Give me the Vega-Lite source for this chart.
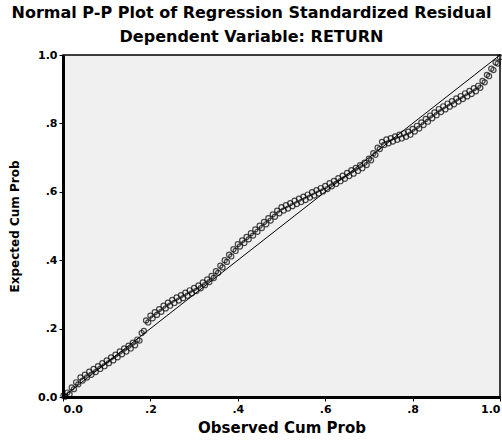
{
  "$schema": "https://vega.github.io/schema/vega-lite/v6.json",
  "autosize": "none",
  "padding": {"left": 63, "top": 55, "right": 2, "bottom": 45},
  "width": 437,
  "height": 342,
  "background": "white",
  "config": {
    "view": {"fill": "#f0f0f0", "stroke": "black", "strokeWidth": 1.5},
    "font": "DejaVu Sans"
  },
  "title": {
    "text": ["Normal P-P Plot of Regression Standardized Residual", "Dependent Variable: RETURN"],
    "fontSize": 16,
    "fontWeight": "bold",
    "color": "black",
    "lineHeight": 24,
    "anchor": "middle",
    "dx": -30,
    "offset": 4
  },
  "layer": [
    {
      "data": {"values": [{"o": 0, "e": 0}, {"o": 1, "e": 1}]},
      "mark": {"type": "line", "color": "black", "strokeWidth": 1},
      "encoding": {
        "x": {"field": "o", "type": "quantitative"},
        "y": {"field": "e", "type": "quantitative"}
      }
    },
    {
      "data": {"values": [
        {"o":0.001,"e":0.004},{"o":0.005,"e":0.001},{"o":0.01,"e":0.013},{"o":0.015,"e":0.008},
        {"o":0.02,"e":0.028},{"o":0.025,"e":0.023},{"o":0.03,"e":0.043},{"o":0.035,"e":0.037},
        {"o":0.04,"e":0.057},{"o":0.045,"e":0.048},{"o":0.05,"e":0.065},{"o":0.055,"e":0.057},
        {"o":0.06,"e":0.074},{"o":0.065,"e":0.065},{"o":0.07,"e":0.082},{"o":0.075,"e":0.073},
        {"o":0.08,"e":0.090},{"o":0.085,"e":0.082},{"o":0.09,"e":0.099},{"o":0.095,"e":0.090},
        {"o":0.10,"e":0.107},{"o":0.105,"e":0.099},{"o":0.11,"e":0.116},{"o":0.115,"e":0.107},
        {"o":0.12,"e":0.124},{"o":0.125,"e":0.116},{"o":0.13,"e":0.133},{"o":0.135,"e":0.125},
        {"o":0.14,"e":0.142},{"o":0.145,"e":0.133},{"o":0.15,"e":0.150},{"o":0.155,"e":0.142},
        {"o":0.16,"e":0.159},{"o":0.165,"e":0.151},{"o":0.17,"e":0.168},{"o":0.175,"e":0.165},
        {"o":0.18,"e":0.187},{"o":0.185,"e":0.193},{"o":0.19,"e":0.224},{"o":0.195,"e":0.218},
        {"o":0.20,"e":0.238},{"o":0.205,"e":0.230},{"o":0.21,"e":0.248},{"o":0.215,"e":0.240},
        {"o":0.22,"e":0.257},{"o":0.225,"e":0.249},{"o":0.23,"e":0.267},{"o":0.235,"e":0.259},
        {"o":0.24,"e":0.276},{"o":0.245,"e":0.267},{"o":0.25,"e":0.284},{"o":0.255,"e":0.275},
        {"o":0.26,"e":0.291},{"o":0.265,"e":0.282},{"o":0.27,"e":0.298},{"o":0.275,"e":0.289},
        {"o":0.28,"e":0.305},{"o":0.285,"e":0.296},{"o":0.29,"e":0.312},{"o":0.295,"e":0.303},
        {"o":0.30,"e":0.319},{"o":0.305,"e":0.310},{"o":0.31,"e":0.326},{"o":0.315,"e":0.318},
        {"o":0.32,"e":0.335},{"o":0.325,"e":0.327},{"o":0.33,"e":0.344},{"o":0.335,"e":0.336},
        {"o":0.34,"e":0.354},{"o":0.345,"e":0.348},{"o":0.35,"e":0.368},{"o":0.355,"e":0.363},
        {"o":0.36,"e":0.384},{"o":0.365,"e":0.379},{"o":0.37,"e":0.400},{"o":0.375,"e":0.395},
        {"o":0.38,"e":0.416},{"o":0.385,"e":0.411},{"o":0.39,"e":0.432},{"o":0.395,"e":0.427},
        {"o":0.40,"e":0.447},{"o":0.405,"e":0.440},{"o":0.41,"e":0.458},{"o":0.415,"e":0.450},
        {"o":0.42,"e":0.468},{"o":0.425,"e":0.461},{"o":0.43,"e":0.479},{"o":0.435,"e":0.472},
        {"o":0.44,"e":0.490},{"o":0.445,"e":0.483},{"o":0.45,"e":0.501},{"o":0.455,"e":0.494},
        {"o":0.46,"e":0.512},{"o":0.465,"e":0.505},{"o":0.47,"e":0.523},{"o":0.475,"e":0.516},
        {"o":0.48,"e":0.534},{"o":0.485,"e":0.527},{"o":0.49,"e":0.545},{"o":0.495,"e":0.537},
        {"o":0.50,"e":0.555},{"o":0.505,"e":0.545},{"o":0.51,"e":0.561},{"o":0.515,"e":0.551},
        {"o":0.52,"e":0.567},{"o":0.525,"e":0.558},{"o":0.53,"e":0.574},{"o":0.535,"e":0.564},
        {"o":0.54,"e":0.580},{"o":0.545,"e":0.570},{"o":0.55,"e":0.586},{"o":0.555,"e":0.576},
        {"o":0.56,"e":0.592},{"o":0.565,"e":0.583},{"o":0.57,"e":0.599},{"o":0.575,"e":0.589},
        {"o":0.58,"e":0.605},{"o":0.585,"e":0.595},{"o":0.59,"e":0.611},{"o":0.595,"e":0.601},
        {"o":0.60,"e":0.617},{"o":0.605,"e":0.608},{"o":0.61,"e":0.625},{"o":0.615,"e":0.616},
        {"o":0.62,"e":0.632},{"o":0.625,"e":0.623},{"o":0.63,"e":0.640},{"o":0.635,"e":0.631},
        {"o":0.64,"e":0.647},{"o":0.645,"e":0.638},{"o":0.65,"e":0.655},{"o":0.655,"e":0.646},
        {"o":0.66,"e":0.663},{"o":0.665,"e":0.653},{"o":0.67,"e":0.670},{"o":0.675,"e":0.661},
        {"o":0.68,"e":0.678},{"o":0.685,"e":0.669},{"o":0.69,"e":0.685},{"o":0.695,"e":0.678},
        {"o":0.70,"e":0.697},{"o":0.705,"e":0.692},{"o":0.71,"e":0.713},{"o":0.715,"e":0.708},
        {"o":0.72,"e":0.729},{"o":0.725,"e":0.725},{"o":0.73,"e":0.746},{"o":0.735,"e":0.737},
        {"o":0.74,"e":0.753},{"o":0.745,"e":0.742},{"o":0.75,"e":0.757},{"o":0.755,"e":0.747},
        {"o":0.76,"e":0.762},{"o":0.765,"e":0.752},{"o":0.77,"e":0.767},{"o":0.775,"e":0.756},
        {"o":0.78,"e":0.771},{"o":0.785,"e":0.761},{"o":0.79,"e":0.776},{"o":0.795,"e":0.767},
        {"o":0.80,"e":0.784},{"o":0.805,"e":0.776},{"o":0.81,"e":0.793},{"o":0.815,"e":0.785},
        {"o":0.82,"e":0.803},{"o":0.825,"e":0.795},{"o":0.83,"e":0.813},{"o":0.835,"e":0.805},
        {"o":0.84,"e":0.823},{"o":0.845,"e":0.815},{"o":0.85,"e":0.832},{"o":0.855,"e":0.824},
        {"o":0.86,"e":0.842},{"o":0.865,"e":0.833},{"o":0.87,"e":0.850},{"o":0.875,"e":0.841},
        {"o":0.88,"e":0.858},{"o":0.885,"e":0.849},{"o":0.89,"e":0.865},{"o":0.895,"e":0.856},
        {"o":0.90,"e":0.873},{"o":0.905,"e":0.864},{"o":0.91,"e":0.880},{"o":0.915,"e":0.871},
        {"o":0.92,"e":0.888},{"o":0.925,"e":0.879},{"o":0.93,"e":0.895},{"o":0.935,"e":0.886},
        {"o":0.94,"e":0.903},{"o":0.945,"e":0.894},{"o":0.95,"e":0.910},{"o":0.955,"e":0.904},
        {"o":0.96,"e":0.924},{"o":0.965,"e":0.920},{"o":0.97,"e":0.942},{"o":0.975,"e":0.938},
        {"o":0.98,"e":0.960},{"o":0.985,"e":0.956},{"o":0.99,"e":0.978},{"o":0.995,"e":0.975},
        {"o":1.0,"e":0.993}
      ]},
      "mark": {"type": "point", "shape": "circle", "filled": false, "color": "black", "strokeWidth": 1.2, "size": 26, "clip": false},
      "encoding": {
        "x": {
          "field": "o", "type": "quantitative",
          "scale": {"domain": [0, 1], "nice": false, "zero": false},
          "axis": {
            "title": "Observed Cum Prob",
            "titleFontSize": 15, "titleFontWeight": "bold", "titleColor": "black", "titlePadding": 6,
            "values": [0, 0.2, 0.4, 0.6, 0.8, 1],
            "labelExpr": "datum.value == 0 ? '0.0' : datum.value == 1 ? '1.0' : replace(format(datum.value, '.1f'), '0.', '.')",
            "labelFontSize": 11, "labelColor": "black", "labelFontWeight": "bold", "labelPadding": 2,
            "tickColor": "black", "tickSize": 4, "tickWidth": 1,
            "domainColor": "black", "domainWidth": 3, "grid": false
          }
        },
        "y": {
          "field": "e", "type": "quantitative",
          "scale": {"domain": [0, 1], "nice": false, "zero": false},
          "axis": {
            "title": "Expected Cum Prob",
            "titleFontSize": 12, "titleFontWeight": "bold", "titleColor": "black", "titlePadding": 16,
            "values": [0, 0.2, 0.4, 0.6, 0.8, 1],
            "labelExpr": "datum.value == 0 ? '0.0' : datum.value == 1 ? '1.0' : replace(format(datum.value, '.1f'), '0.', '.')",
            "labelFontSize": 11, "labelColor": "black", "labelFontWeight": "bold", "labelPadding": 2,
            "tickColor": "black", "tickSize": 4, "tickWidth": 1,
            "domainColor": "black", "domainWidth": 3, "grid": false
          }
        }
      }
    }
  ]
}
